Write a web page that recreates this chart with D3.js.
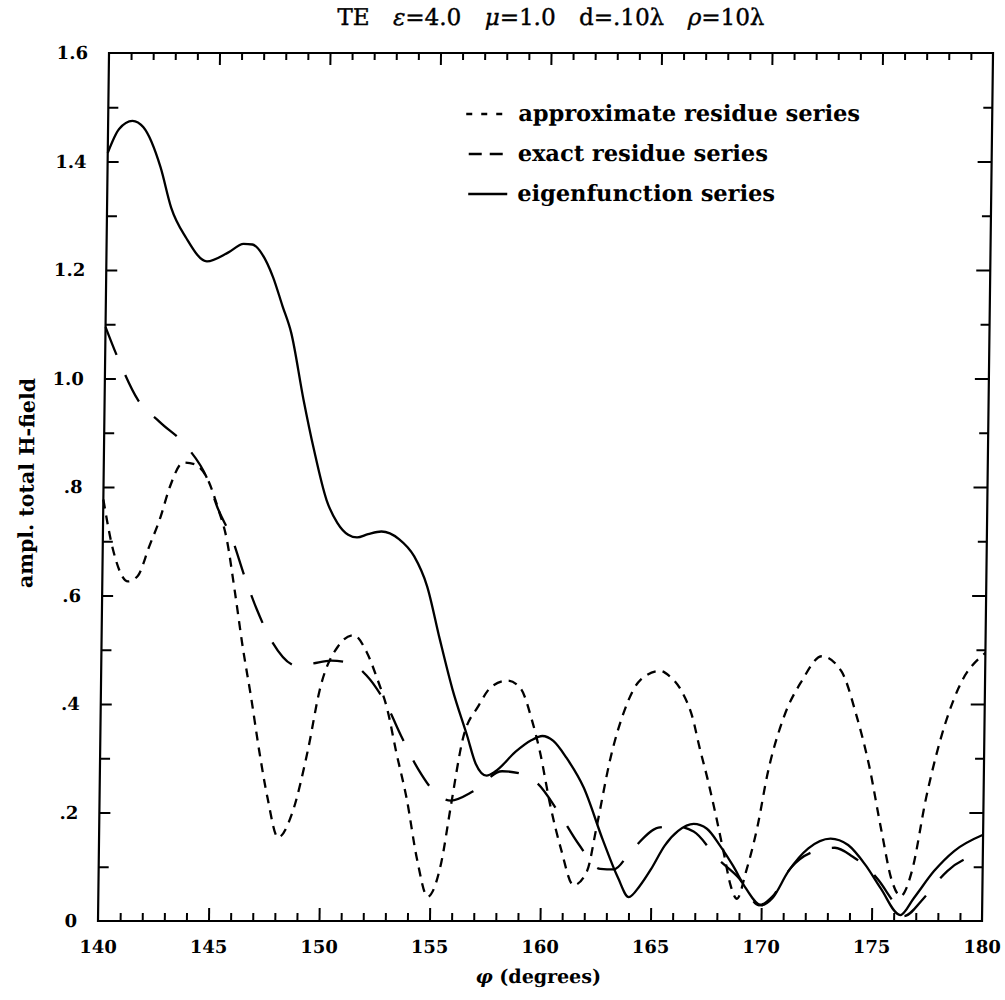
<!DOCTYPE html>
<html lang="en">
<head>
<meta charset="UTF-8">
<title>TE field amplitude</title>
<script src="https://cdn.jsdelivr.net/npm/d3@7"></script>
<style>
    body { margin:0; background:#fff; }
    .tick text { font-family:"DejaVu Serif", serif; font-weight:bold; font-size:18px; fill:#000; }
    .tick line { stroke:#000; stroke-width:2px; }
    .curve { fill:none; stroke:#000; stroke-width:2.3px; stroke-linejoin:round; }
    .lbl { font-family:"DejaVu Serif", serif; font-weight:bold; fill:#000; }
</style>
</head>
<body>
<div id="chart"></div>
<script>
// eigenfunction series (solid)
const solidPhi = [140.0,140.5,141.1,141.6,142.4,142.9,143.6,144.55,145.5,146.2,146.6,147.05,147.55,148.0,148.4,149.0,149.5,150.1,150.6,151.1,151.5,152.0,152.6,153.4,154.1,154.7,155.3,155.9,156.6,157.0,157.5,157.9,158.8,159.5,160.0,160.5,161.1,161.9,162.8,163.5,164.0,164.5,165.0,165.6,166.2,166.9,167.5,168.1,168.7,169.3,170.0,170.5,171.2,172.1,173.1,173.9,174.7,175.4,176.3,176.9,177.8,178.7,180.0];
const solidAmp = [1.416,1.460,1.475,1.463,1.389,1.315,1.259,1.216,1.232,1.248,1.247,1.229,1.187,1.133,1.085,0.961,0.869,0.776,0.734,0.712,0.707,0.713,0.718,0.704,0.672,0.617,0.520,0.428,0.341,0.290,0.268,0.276,0.312,0.333,0.341,0.332,0.301,0.246,0.149,0.080,0.044,0.065,0.096,0.139,0.166,0.179,0.170,0.139,0.102,0.060,0.029,0.042,0.091,0.134,0.152,0.140,0.103,0.060,0.011,0.042,0.092,0.129,0.159];

// exact residue series (long dashes)
const exactPhi = [140.0,140.67,141.5,142.5,143.75,144.7,145.15,145.9,146.4,147.0,147.7,148.9,149.6,150.4,151.3,152.0,153.0,153.6,154.4,155.4,155.9,156.9,158.2,159.0,159.8,160.8,161.7,162.7,163.3,164.1,165.3,166.0,166.9,168.0,169.0,169.9,170.5,171.3,172.5,173.3,174.1,175.3,175.9,176.45,177.35,177.9,178.4,179.9];
const exactAmp = [1.095,1.029,0.961,0.920,0.874,0.814,0.764,0.699,0.639,0.575,0.516,0.470,0.475,0.480,0.475,0.453,0.393,0.342,0.280,0.229,0.222,0.239,0.276,0.272,0.254,0.199,0.142,0.096,0.095,0.130,0.172,0.175,0.165,0.115,0.078,0.029,0.045,0.097,0.130,0.135,0.119,0.075,0.040,0.009,0.042,0.070,0.092,0.125];

// approximate residue series (short dashes)
const approxPhi = [140.0,140.47,141.16,141.6,142.1,142.6,143.0,143.6,144.1,144.7,145.2,145.6,146.0,146.4,146.8,147.2,147.6,148.1,148.7,149.4,149.9,150.7,151.4,152.0,152.5,152.97,153.4,153.9,154.4,154.9,155.5,155.9,156.4,157.1,157.7,158.4,159.0,159.5,159.9,160.4,160.9,161.5,162.1,162.5,163.1,163.7,164.4,165.3,165.7,166.3,166.8,167.1,167.5,167.9,168.3,168.6,168.9,169.3,169.8,170.2,170.9,171.7,172.6,173.5,174.2,174.8,175.4,175.9,176.3,176.8,177.4,178.0,178.8,180.0];
const approxAmp = [0.777,0.684,0.626,0.636,0.690,0.745,0.800,0.845,0.842,0.815,0.760,0.705,0.608,0.503,0.412,0.313,0.227,0.154,0.196,0.315,0.426,0.506,0.527,0.496,0.446,0.390,0.311,0.225,0.114,0.045,0.108,0.212,0.335,0.397,0.433,0.443,0.428,0.373,0.312,0.213,0.134,0.066,0.092,0.172,0.301,0.388,0.444,0.461,0.452,0.422,0.373,0.323,0.262,0.194,0.121,0.066,0.041,0.092,0.177,0.269,0.374,0.442,0.488,0.460,0.379,0.287,0.166,0.074,0.046,0.092,0.227,0.332,0.429,0.494];

const xMajor = [140,145,150,155,160,165,170,175,180];
const yMajor = [0,0.2,0.4,0.6,0.8,1.0,1.2,1.4,1.6];
const yTickLabels = ["0",".2",".4",".6",".8","1.0","1.2","1.4","1.6"];
const legendNames = ["approximate residue series","exact residue series","eigenfunction series"];
const titleParts = [["TE ",false],["ε",true],["=4.0 ",false],["μ",true],["=1.0 d=.10λ ",false],["ρ",true],["=10λ",false]];

const W = 1005, H = 1000;
const L = 98, R = 982, T = 53, B = 921;

const svg = d3.select("#chart").append("svg")
    .attr("width", W).attr("height", H);

// the scan leans a little: top edge sits ~11px right of the bottom edge
const g = svg.append("g")
    .attr("transform", `translate(0,${B}) skewX(-0.727) translate(0,${-B})`);

const x = d3.scaleLinear().domain([140,180]).range([L,R]);
const y = d3.scaleLinear().domain([0,1.6]).range([B,T]);

// ticks
const minorX = d3.range(141,180).filter(d => d % 5 != 0);
const minorY = d3.range(1,16).map(d => d/10).filter(d => Math.round(d*10) % 2 == 1);

function tickAxis(axis, cls){
    const a = g.append("g").attr("class", cls).call(axis);
    a.select(".domain").remove();
    return a;
}
tickAxis(d3.axisBottom(x).tickValues(minorX).tickSize(-8).tickFormat(""), "bx")
    .attr("transform", `translate(0,${B})`);
tickAxis(d3.axisBottom(x).tickValues(xMajor.slice(1,-1)).tickSize(-13).tickFormat(""), "bX")
    .attr("transform", `translate(0,${B})`);
tickAxis(d3.axisTop(x).tickValues(minorX).tickSize(-7).tickFormat(""), "tx")
    .attr("transform", `translate(0,${T})`);
tickAxis(d3.axisTop(x).tickValues(xMajor.slice(1,-1)).tickSize(-12).tickFormat(""), "tX")
    .attr("transform", `translate(0,${T})`);
tickAxis(d3.axisLeft(y).tickValues(minorY).tickSize(-10).tickFormat(""), "ly")
    .attr("transform", `translate(${L},0)`);
tickAxis(d3.axisLeft(y).tickValues(yMajor.slice(1,-1)).tickSize(-11).tickFormat(""), "lY")
    .attr("transform", `translate(${L},0)`);
tickAxis(d3.axisRight(y).tickValues(minorY).tickSize(-9).tickFormat(""), "ry")
    .attr("transform", `translate(${R},0)`);
tickAxis(d3.axisRight(y).tickValues(yMajor.slice(1,-1)).tickSize(-14).tickFormat(""), "rY")
    .attr("transform", `translate(${R},0)`);

// tick labels
tickAxis(d3.axisBottom(x).tickValues(xMajor).tickSize(0).tickPadding(19).tickFormat(d3.format("d")), "xl")
    .attr("transform", `translate(0,${B})`);
tickAxis(d3.axisLeft(y).tickValues(yMajor).tickSize(0).tickPadding(21).tickFormat((d,i) => yTickLabels[i]), "yl")
    .attr("transform", `translate(${L},0)`);
g.selectAll(".xl text, .yl text").attr("font-family", null);

// frame
g.append("rect")
    .attr("x", L).attr("y", T).attr("width", R-L).attr("height", B-T)
    .attr("fill", "none").attr("stroke", "#000").attr("stroke-width", 2.2);

// curves
const line = d3.line().x(d => x(d[0])).y(d => y(d[1])).curve(d3.curveMonotoneX);
const series = [
    {phi: approxPhi, amp: approxAmp, dash: "9,7"},
    {phi: exactPhi, amp: exactAmp, dash: "30,22"},
    {phi: solidPhi, amp: solidAmp, dash: null}
];
series.forEach(s => {
    g.append("path")
        .datum(d3.zip(s.phi, s.amp))
        .attr("class", "curve")
        .attr("stroke-dasharray", s.dash)
        .attr("d", line);
});

// legend
const legDash = ["6,9", "13,8", null];
legendNames.forEach((name, i) => {
    const by = 121 + i*40;
    g.append("line")
        .attr("x1", i == 0 ? 456 : 459).attr("x2", 498)
        .attr("y1", by-7).attr("y2", by-7)
        .attr("stroke", "#000").attr("stroke-width", 2.3)
        .attr("stroke-dasharray", legDash[i]);
    g.append("text").attr("class", "lbl")
        .attr("x", 508).attr("y", by)
        .attr("font-size", 22.5)
        .text(name);
});

// title, spread out to the width it has in the scan
const title = g.append("text")
    .attr("x", 326).attr("y", 25)
    .attr("font-family", "'DejaVu Serif', serif")
    .attr("font-size", 23)
    .attr("stroke", "#000").attr("stroke-width", 0.4)
    .attr("xml:space", "preserve")
    .style("white-space", "pre");
titleParts.forEach(p => {
    title.append("tspan").attr("font-style", p[1] ? "italic" : null).text(p[0]);
});
const tw = title.node().getComputedTextLength();
title.attr("word-spacing", Math.max(0, (427 - tw) / 4));

// axis titles
g.append("text").attr("class", "lbl")
    .attr("x", 539).attr("y", 983)
    .attr("text-anchor", "middle")
    .attr("font-size", 19)
    .html('<tspan font-style="italic">φ</tspan> (degrees)');

g.append("text").attr("class", "lbl")
    .attr("transform", `translate(28,483) rotate(-90)`)
    .attr("text-anchor", "middle")
    .attr("font-size", 20.5)
    .text("ampl. total H-field");
</script>
</body>
</html>
